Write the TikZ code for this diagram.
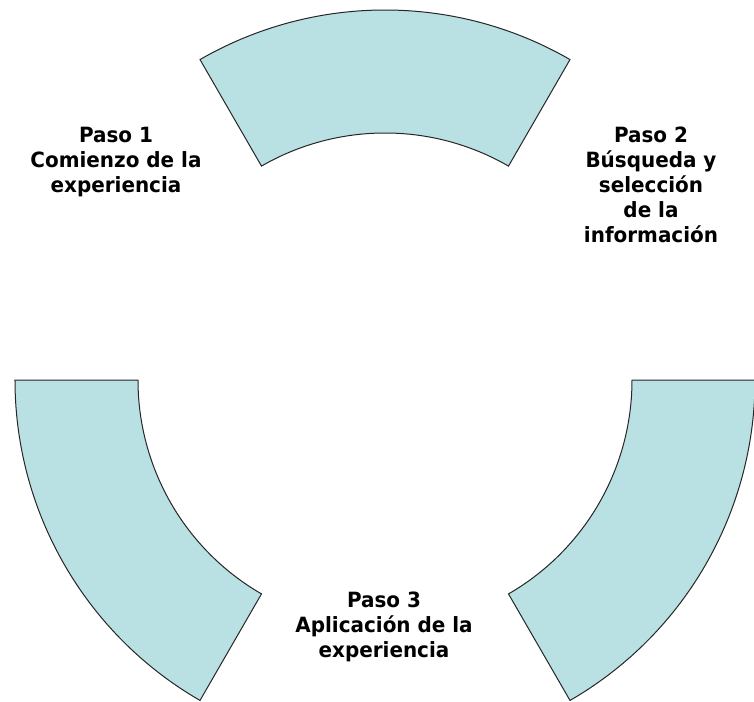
\documentclass[tikz,border=0pt]{standalone}
\usepackage{fontspec}
\setmainfont{DejaVu Sans}[FakeStretch=0.95]
\usepackage{tikz}
\usetikzlibrary{positioning}
\definecolor{pasofill}{RGB}{185,224,227}
\tikzset{
    %Define style for ring pieces
    sector/.style={
           draw=black!85,
           line width=1pt,
           fill=pasofill},
    %Define style for step texts
    paso/.style={
           align=center,
           inner sep=0pt,
           font=\bfseries\fontsize{21}{25}\selectfont,
           text centered}
}
\begin{document}
\begin{tikzpicture}[x=1pt,y=1pt]
\useasboundingbox (-385,-321) rectangle (369,380);
\foreach \a/\b in {60/120,180/240,300/360}
  \draw[sector] (\a:247) -- (\a:370) arc[start angle=\a,end angle=\b,radius=370]
     -- (\b:247) arc[start angle=\b,end angle=\a,radius=247] -- cycle;
\node[paso](p1) at (-269,218){Paso 1\\Comienzo de la\\experiencia};
\node[paso](p2) at (266,195){Paso 2\\Búsqueda y\\selección\\de la\\información};
\node[paso](p3) at (-1,-247){Paso 3\\Aplicación de la\\experiencia};
\end{tikzpicture}
\end{document}
